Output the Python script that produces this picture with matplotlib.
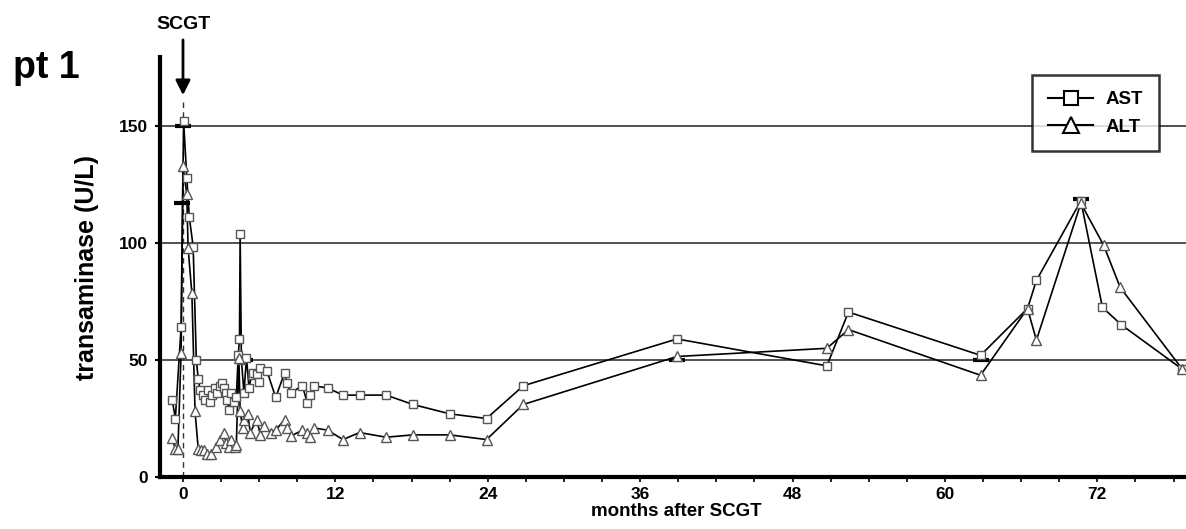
import matplotlib
matplotlib.use('Agg')
import matplotlib.pyplot as plt
from matplotlib.lines import Line2D

plt.rcParams['font.family'] = ['Liberation Sans', 'DejaVu Sans']
plt.rcParams['font.weight'] = 'bold'

# AST (months after SCGT, U/L)
ast_months = [-0.85, -0.6, -0.15, 0.05, 0.3, 0.5, 0.8, 1.05, 1.2, 1.35, 1.55, 1.75, 1.95, 2.1,
              2.3, 2.5, 2.7, 2.9, 3.05, 3.2, 3.35, 3.5, 3.6, 3.8, 4.0, 4.2, 4.35, 4.45, 4.5,
              4.6, 4.8, 5.0, 5.2, 5.4, 5.5, 5.8, 6.0, 6.1, 6.6, 7.3, 8.0, 8.2, 8.5, 9.4, 9.8,
              10.0, 10.3, 11.4, 12.6, 13.9, 16.0, 18.1, 21.0, 23.9, 26.8, 38.9, 50.7, 52.4,
              62.8, 66.5, 67.2, 70.7, 72.4, 73.9, 78.7]
ast_values = [33, 25, 64, 152, 128, 111, 98.5, 50, 42, 37, 35, 33, 37, 32,
              35, 38, 36, 39, 40, 38, 36, 33, 28.5, 36, 32, 34, 52, 59, 104,
              50, 36, 51, 38, 43.5, 44.5, 44, 40.5, 46.5, 45.5, 34, 44.5, 40, 36, 39, 31.5,
              35, 39, 38, 35, 35, 35, 31, 27, 25, 39, 59, 47.5, 70.5,
              52, 72, 84, 118, 72.5, 65, 46]

# ALT
alt_months = [-0.85, -0.6, -0.4, -0.15, 0.0, 0.3, 0.4, 0.7, 0.95, 1.2, 1.4, 1.65, 1.9, 2.2,
              2.6, 2.9, 3.2, 3.4, 3.6, 3.8, 4.1, 4.2, 4.4, 4.5, 4.7, 4.8, 5.1, 5.3, 5.8, 6.1,
              6.4, 6.9, 7.3, 8.0, 8.2, 8.5, 9.4, 9.8, 10.0, 10.3, 11.4, 12.6, 13.9, 16.0,
              18.1, 21.0, 23.9, 26.8, 38.9, 50.7, 52.4, 62.8, 66.5, 67.2, 70.7, 72.5, 73.8, 78.7]
alt_values = [16.5, 12, 12, 53, 133, 121, 98, 78.5, 28, 12, 11.5, 11.5, 10, 10,
              13, 16, 19, 14.5, 13, 16, 13, 13.7, 51, 28, 21, 24.5, 27, 19, 24.5, 18,
              22, 19, 20, 24.5, 21, 17.5, 20, 19, 17, 21, 20, 16, 19, 17,
              18, 18, 16, 31, 51.5, 55, 63, 43.5, 72, 58.5, 117, 99, 81, 46]

# short black bars drawn on some points
bar_months = [0, -0.1, 4.9, 38.9, 62.8, 70.7]
bar_values = [150, 117, 50, 50, 50, 119]

gridlines = [50, 100, 150]

fig = plt.figure(figsize=(11.86, 5.29), dpi=100)
ax = fig.add_axes([160/1186, 52/529, 1026/1186, 420/529])

for g in gridlines:
    ax.axhline(g, color='#222222', lw=1.1, zorder=1)

ax.vlines(0, 0, 162, colors='#333333', linestyles=(0, (4, 3)), lw=1.0, zorder=2)

ax.plot(ast_months, ast_values, color='black', lw=1.2, zorder=3)
ax.plot(alt_months, alt_values, color='black', lw=1.2, zorder=3)
ax.plot(bar_months, bar_values, ls='none', marker='_', ms=11, mew=3, color='black', zorder=4)
ax.plot(ast_months, ast_values, ls='none', marker='s', ms=6.3, mfc='white', mec='#555555',
        mew=1.0, zorder=5, clip_on=False)
ax.plot(alt_months, alt_values, ls='none', marker='^', ms=7.8, mfc='white', mec='#555555',
        mew=1.0, zorder=5, clip_on=False)

ax.set_xlim(-1.81, 78.98)
ax.set_ylim(0, 179.5)

ax.spines['top'].set_visible(False)
ax.spines['right'].set_visible(False)
ax.spines['left'].set_linewidth(3)
ax.spines['bottom'].set_linewidth(3)

ax.set_yticks([0, 50, 100, 150])
ax.tick_params(axis='y', length=3.5, width=1.5, pad=5, labelsize=12.5)
xt = list(range(0, 79, 3))
ax.set_xticks(xt)
ax.set_xticklabels([str(t) if t % 12 == 0 else '' for t in xt])
ax.tick_params(axis='x', length=3.5, width=1.2, pad=4, labelsize=12.5)

# arrow and labels
ax.annotate('', xy=(0, 162), xytext=(0, 188), annotation_clip=False,
            arrowprops=dict(arrowstyle='-|>', mutation_scale=22, lw=2, color='black'))
fig.text(183/1186, 1 - 29/529, 'SCGT', fontsize=14, ha='center', va='baseline')
fig.text(13/1186, 1 - 78/529, 'pt 1', fontsize=27, ha='left', va='baseline')
fig.text(87/1186, 1 - 267/529, 'transaminase (U/L)', fontsize=18, rotation=90,
         ha='center', va='center')
fig.text(676/1186, 1 - 516/529, 'months after SCGT', fontsize=13.5, ha='center', va='baseline')

handles = [Line2D([], [], color='black', lw=1.5, marker='s', ms=9.5, mfc='white', mec='black', mew=1.5),
           Line2D([], [], color='black', lw=1.5, marker='^', ms=12, mfc='white', mec='black', mew=1.5)]
leg = ax.legend(handles, ['AST', 'ALT'], loc='upper right',
                bbox_to_anchor=(1159/1186, 1 - 75/529), bbox_transform=fig.transFigure,
                fontsize=13.5, frameon=True, fancybox=False, edgecolor='black',
                handlelength=2.4, handletextpad=0.65, labelspacing=0.55, borderpad=0.85,
                borderaxespad=0)
leg.get_frame().set_linewidth(1.8)
leg.set_zorder(10)

fig.savefig('out.png', dpi=100)
